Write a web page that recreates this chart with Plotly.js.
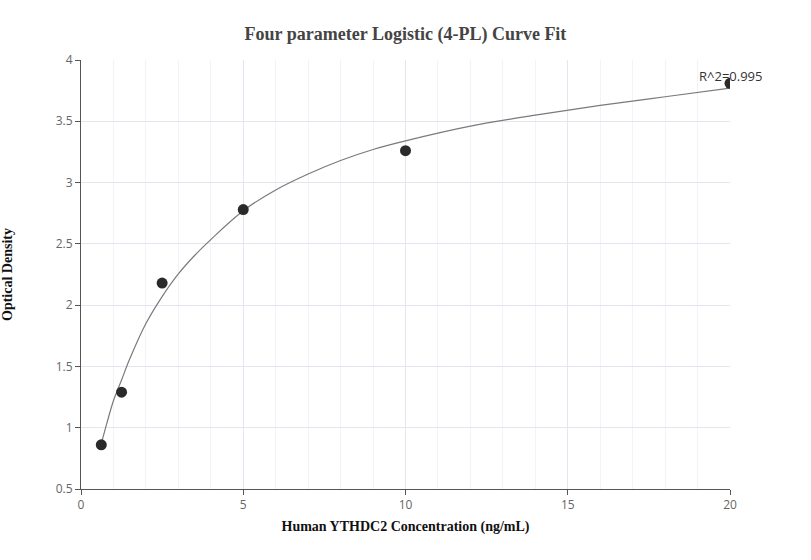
<!DOCTYPE html>
<html>
<head>
<meta charset="utf-8">
<script src="https://cdn.plot.ly/plotly-3.0.1.min.js"></script>
<style>html,body{margin:0;padding:0;background:#fff;}#chart{width:811px;height:560px;}</style>
</head>
<body>
<div id="chart"></div>
<script>
// Measured standards
const concentration = [0.625, 1.25, 2.5, 5, 10, 20];
const opticalDensity = [0.86, 1.29, 2.18, 2.78, 3.26, 3.81];

// Fitted curve
const curveX = [0.625, 0.8, 1, 1.25, 1.5, 2, 2.5, 3, 3.5, 4, 5, 6, 7, 8, 9, 10, 12, 14, 16, 18, 20];
const curveY = [0.87, 1.04, 1.22, 1.39, 1.56, 1.85, 2.07, 2.255, 2.405, 2.535, 2.77, 2.94, 3.07, 3.18, 3.27, 3.34, 3.46, 3.55, 3.63, 3.70, 3.77];

const xTickVals = [0, 5, 10, 15, 20];
const yTickVals = [0.5, 1, 1.5, 2, 2.5, 3, 3.5, 4];
const r2Label = "R^2=0.995";

const traces = [
  {
    x: curveX, y: curveY, mode: "lines", type: "scatter",
    line: {color: "#7a7a7a", width: 1.2, shape: "spline", smoothing: 1},
    hoverinfo: "skip", showlegend: false
  },
  {
    x: concentration, y: opticalDensity, mode: "markers", type: "scatter",
    marker: {color: "#2a2a2a", size: 11},
    showlegend: false
  }
];

const layout = {
  width: 811, height: 560,
  margin: {l: 81, r: 81, t: 60, b: 71},
  paper_bgcolor: "#fff", plot_bgcolor: "#fff",
  font: {family: "Open Sans, sans-serif", color: "#666"},
  title: {
    text: "<b>Four parameter Logistic (4-PL) Curve Fit</b>",
    font: {family: "Liberation Serif, Times New Roman, serif", size: 18, color: "#444"},
    x: 0.5, xanchor: "center", y: 0.94, yanchor: "middle"
  },
  xaxis: {
    range: [0, 20], tickvals: xTickVals, ticktext: xTickVals.map(String),
    showline: true, linecolor: "#555", linewidth: 1,
    ticks: "outside", ticklen: 5, tickcolor: "#555",
    gridcolor: "#e3e6ee", zeroline: false,
    minor: {dtick: 1, showgrid: true, gridcolor: "#f2f3f8"},
    tickfont: {size: 12, color: "#666"},
    title: {text: "<b>Human YTHDC2 Concentration (ng/mL)</b>",
      font: {family: "Liberation Serif, Times New Roman, serif", size: 14, color: "#111"}, standoff: 8}
  },
  yaxis: {
    range: [0.5, 4], tickvals: yTickVals, ticktext: yTickVals.map(String),
    showline: true, linecolor: "#555", linewidth: 1,
    ticks: "outside", ticklen: 5, tickcolor: "#555",
    gridcolor: "#e3e6ee", zeroline: false,
    tickfont: {size: 12, color: "#666"},
    title: {text: "<b>Optical Density</b>",
      font: {family: "Liberation Serif, Times New Roman, serif", size: 14, color: "#111"}, standoff: 40}
  },
  annotations: [{
    x: 20, y: 3.81, xref: "x", yref: "y", text: r2Label, showarrow: false,
    yanchor: "bottom", xanchor: "center", yshift: -4,
    font: {size: 13, color: "#333"}
  }]
};

Plotly.newPlot("chart", traces, layout, {displayModeBar: false, staticPlot: true});
</script>
</body>
</html>
